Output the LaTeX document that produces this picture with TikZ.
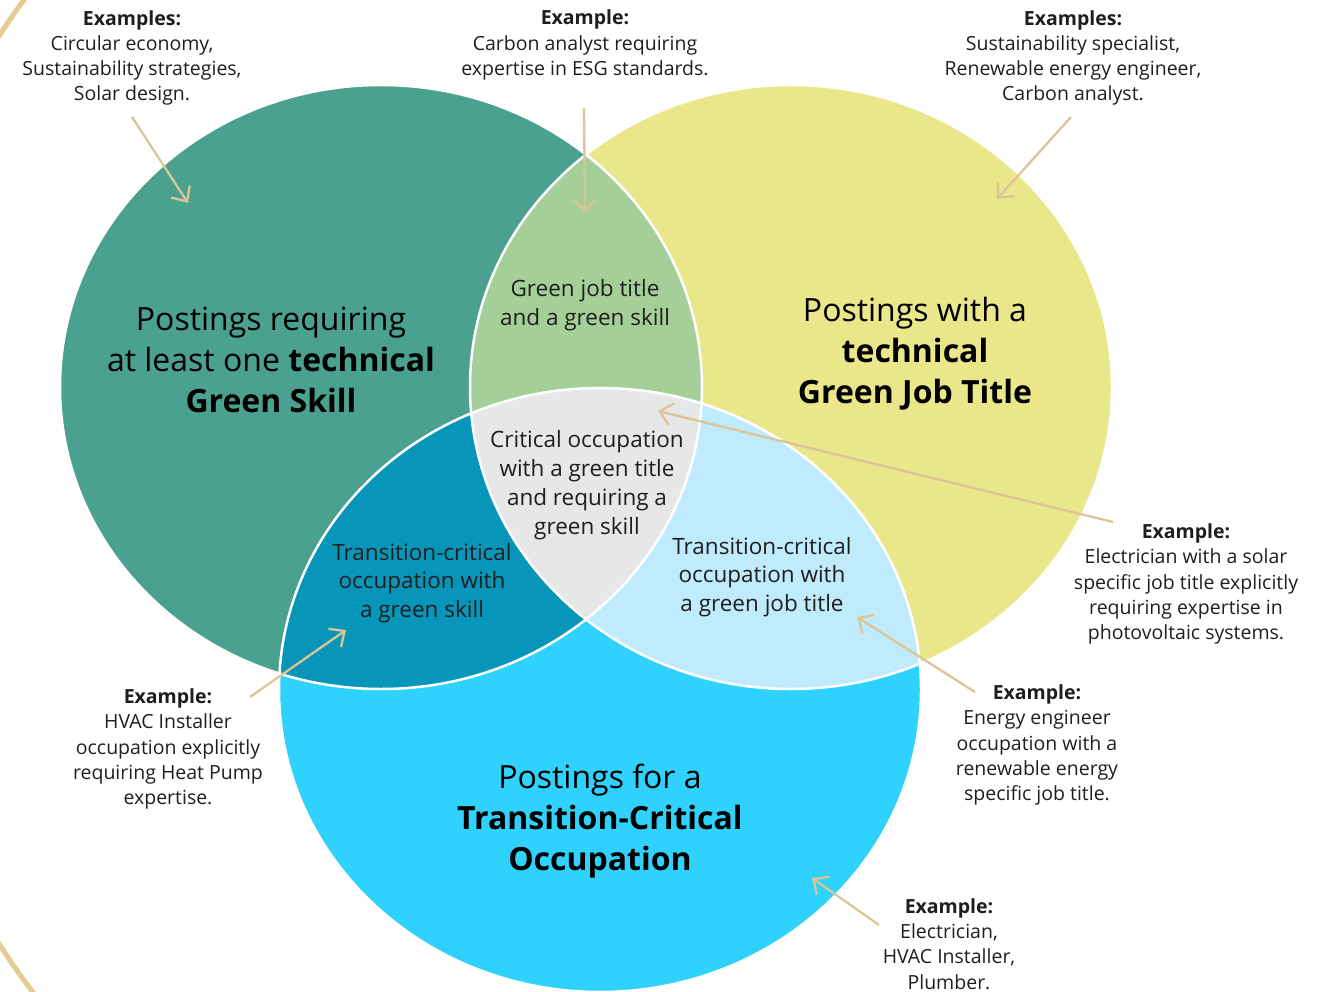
\documentclass[tikz,border=0pt]{standalone}
\usepackage{fontspec}
\setmainfont{Open Sans}
\usetikzlibrary{arrows.meta}
\definecolor{leftc}{HTML}{4AA18F}
\definecolor{rightc}{HTML}{EAE68A}
\definecolor{botc}{HTML}{2FD2FD}
\definecolor{lensc}{HTML}{A4CF99}
\definecolor{midc}{HTML}{E6E7E7}
\definecolor{dtealc}{HTML}{0796B9}
\definecolor{lbluec}{HTML}{BFEBFD}
\definecolor{tanc}{HTML}{E3CB92}
\definecolor{arrc}{HTML}{DBC596}
\definecolor{txtc}{HTML}{1E1E1E}
\tikzset{
  small/.style={align=center, text=txtc, inner sep=0pt, font=\fontsize{19.5}{25.2}\selectfont},
  mid/.style={align=center, text=txtc, inner sep=0pt, font=\fontsize{22.5}{28.8}\selectfont},
  big/.style={align=center, text=black, inner sep=0pt, font=\fontsize{32}{41}\selectfont},
  pointer/.style={draw=arrc, line width=2.3pt, -{Straight Barb[length=12pt,width=22pt,line width=2.3pt]}},
}
\begin{document}
\begin{tikzpicture}[x=1pt,y=-1pt]
\useasboundingbox (0,0) rectangle (1327,992);
\begin{scope}
\clip (0,0) rectangle (1327,992);
\draw[tanc, line width=5pt] (700,490) circle [radius=835pt];
\def\L{(381,387) ellipse [x radius=321pt, y radius=302pt]}
\def\R{(791,387) ellipse [x radius=321pt, y radius=302pt]}
\def\B{(600,690) ellipse [x radius=321pt, y radius=302pt]}
\fill[leftc] \L;
\fill[rightc] \R;
\fill[botc] \B;
\begin{scope}\clip \L; \fill[lensc] \R; \end{scope}
\begin{scope}\clip \L; \fill[dtealc] \B; \end{scope}
\begin{scope}\clip \R; \fill[lbluec] \B; \end{scope}
\begin{scope}\clip \L; \clip \R; \fill[midc] \B; \end{scope}
\draw[white, line width=2.5pt] \L;
\draw[white, line width=2.5pt] \R;
\draw[white, line width=2.5pt] \B;
\end{scope}

% region labels
\node[big] (tl) at (271,360) {Postings requiring\\at least one \textbf{technical}\\\textbf{Green Skill}};
\node[big] (tr) at (915,354) {Postings with a\\\textbf{technical}\\\textbf{Green Job Title}};
\node[big] (tb) at (600,821) {Postings for a\\\textbf{Transition-Critical}\\\textbf{Occupation}};
\node[mid] (lens) at (585,305) {Green job title\\and a green skill};
\node[mid] (ctr) at (587,485) {Critical occupation\\with a green title\\and requiring a\\green skill};
\node[mid] (dt) at (422,583) {Transition-critical\\occupation with\\a green skill};
\node[mid] (lb) at (762,577) {Transition-critical\\occupation with\\a green job title};

% examples
\node[small] (e1) at (132,58) {\textbf{Examples:}\\Circular economy,\\Sustainability strategies,\\Solar design.};
\node[small] (e2) at (585,45) {\textbf{Example:}\\Carbon analyst requiring\\expertise in ESG standards.};
\node[small] (e3) at (1073,58) {\textbf{Examples:}\\Sustainability specialist,\\Renewable energy engineer,\\Carbon analyst.};
\node[small] (e4) at (1186,584) {\textbf{Example:}\\Electrician with a solar\\specific job title explicitly\\requiring expertise in\\photovoltaic systems.};
\node[small] (e5) at (168,749) {\textbf{Example:}\\HVAC Installer\\occupation explicitly\\requiring Heat Pump\\expertise.};
\node[small] (e6) at (1037,745) {\textbf{Example:}\\Energy engineer\\occupation with a\\renewable energy\\specific job title.};
\node[small] (e7) at (949,944) {\textbf{Example:}\\Electrician,\\HVAC Installer,\\Plumber.};

% pointer ends
\coordinate (s1) at (132,117); \coordinate (t1) at (188,203);
\coordinate (s2) at (584,108); \coordinate (t2) at (585,213);
\coordinate (s3) at (1071,117); \coordinate (t3) at (997,199);
\coordinate (s4) at (1113,522); \coordinate (t4) at (658,411);
\coordinate (s5) at (250,697); \coordinate (t5) at (346,630);
\coordinate (s6) at (975,692); \coordinate (t6) at (857,617);
\coordinate (s7) at (879,925); \coordinate (t7) at (812,878);
\draw[pointer] (s1) -- (t1);
\draw[pointer] (s2) -- (t2);
\draw[pointer] (s3) -- (t3);
\draw[pointer] (s4) -- (t4);
\draw[pointer] (s5) -- (t5);
\draw[pointer] (s6) -- (t6);
\draw[pointer] (s7) -- (t7);
\end{tikzpicture}
\end{document}
